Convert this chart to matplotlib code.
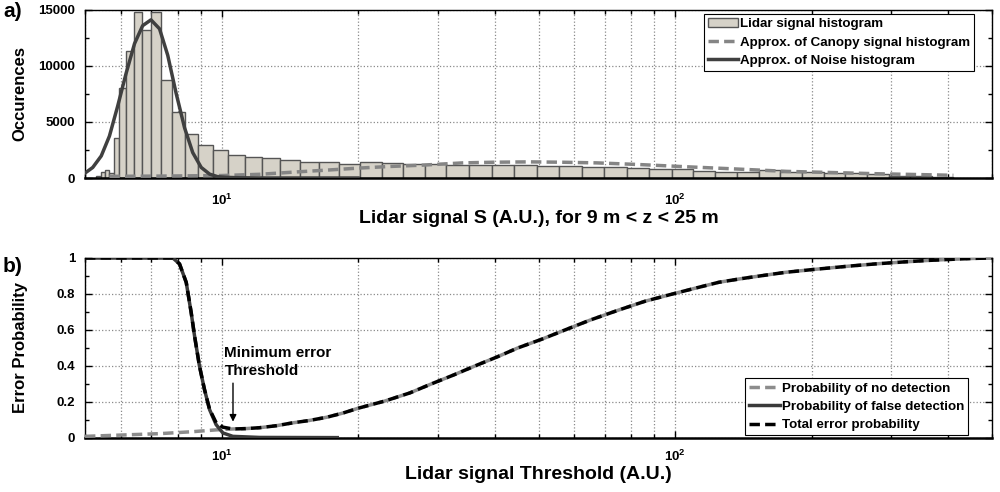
import numpy as np
import matplotlib.pyplot as plt
from matplotlib.ticker import MultipleLocator, LogLocator, NullFormatter

plt.rcParams['font.family'] = ['Liberation Sans', 'DejaVu Sans']
plt.rcParams['font.weight'] = 'bold'
plt.rcParams['mathtext.fontset'] = 'custom'
plt.rcParams['mathtext.rm'] = 'Liberation Sans:bold'
plt.rcParams['mathtext.bf'] = 'Liberation Sans:bold'
plt.rcParams['mathtext.default'] = 'bf'

# ---- panel a data: histogram of lidar signal ----
hist_edges = [5.30, 5.43, 5.54, 5.66, 5.78, 5.95, 6.16, 6.40, 6.67, 6.99, 7.36, 7.77,
              8.29, 8.86, 9.57, 10.32, 11.24, 12.30, 13.43, 14.87, 16.37, 18.15,
              20.17, 22.59, 25.13, 28.06, 31.33, 35.16, 39.52, 44.19, 49.52, 55.54,
              62.23, 69.83, 78.25, 87.77, 98.33, 109.7, 122.6, 136.9, 152.8, 170.5,
              190.4, 212.6, 237.4, 265.0, 295.8, 330.2, 368.7, 411.0]
hist_counts = [150, 500, 680, 450, 3540, 8020, 11320, 14850, 13170, 14850, 8750,
               5900, 3950, 2920, 2500, 2090, 1870, 1770, 1570, 1450, 1390, 1280,
               1390, 1300, 1210, 1240, 1120, 1120, 1120, 1180, 1060, 1060, 950, 950,
               860, 770, 770, 645, 555, 500, 710, 500, 520, 470, 415, 350, 200, 200, 60]

noise_s = [5.0, 5.20, 5.43, 5.66, 5.90, 6.16, 6.43, 6.70, 6.99, 7.30, 7.61, 7.94,
           8.29, 8.64, 9.02, 9.41, 9.81, 10.24, 11.0, 12.5, 20.0]
noise_occ = [440, 940, 1970, 3740, 6390, 9340, 12000, 13600, 14120, 13320, 10960,
             7580, 4480, 2270, 945, 350, 115, 60, 20, 0, 0]

canopy_s = [5.66, 7.30, 10.0, 12.13, 14.87, 17.31, 19.97, 23.5, 27.78, 34.04, 40.0,
            47.86, 56.0, 67.26, 82.45, 106.3, 137.1, 176.7, 216.6, 279.2, 360.0, 411.0]
canopy_occ = [150, 170, 220, 330, 560, 720, 880, 1030, 1150, 1350, 1410, 1440, 1410,
              1350, 1210, 1000, 800, 590, 500, 380, 290, 240]

# ---- panel b data: error probabilities vs threshold ----
thr = [5.0, 7.81, 8.08, 8.36, 8.57, 8.72, 8.94, 9.17, 9.41, 9.73, 10.07, 10.59,
       11.3, 12.13, 13.2, 14.35, 15.6, 17.05, 18.5, 20.0, 22.9, 26.0, 29.0, 32.5,
       36.2, 40.5, 45.0, 51.0, 57.2, 65.0, 75.0, 86.0, 98.8, 112.0, 125.0, 140.0,
       153.8, 175.0, 200.0, 242.8, 280.0, 320.0, 360.0, 404.0, 450.0, 500.0]
p_total = [1.0, 1.0, 0.967, 0.864, 0.70, 0.567, 0.40, 0.27, 0.16, 0.085, 0.06, 0.05,
           0.052, 0.057, 0.068, 0.084, 0.097, 0.115, 0.138, 0.165, 0.205, 0.25, 0.30,
           0.35, 0.40, 0.45, 0.50, 0.55, 0.60, 0.655, 0.71, 0.76, 0.80, 0.835, 0.865,
           0.885, 0.90, 0.92, 0.935, 0.955, 0.968, 0.978, 0.986, 0.992, 0.997, 1.0]
thr_nd = [5.0, 7.30, 8.64, 9.73, 10.59, 11.3, 12.13, 13.2, 14.35, 15.6, 17.05, 18.5,
          20.0, 22.9, 26.0, 29.0, 32.5, 36.2, 40.5, 45.0, 51.0, 57.2, 65.0, 75.0,
          86.0, 98.8, 112.0, 125.0, 140.0, 153.8, 175.0, 200.0, 242.8, 280.0, 320.0,
          360.0, 404.0, 450.0, 500.0]
p_nodet = [0.009, 0.024, 0.035, 0.045, 0.05, 0.052, 0.057, 0.068, 0.084, 0.097, 0.115,
           0.138, 0.165, 0.205, 0.25, 0.30, 0.35, 0.40, 0.45, 0.50, 0.55, 0.60, 0.655,
           0.71, 0.76, 0.80, 0.835, 0.865, 0.885, 0.90, 0.92, 0.935, 0.955, 0.968,
           0.978, 0.986, 0.992, 0.997, 1.0]
thr_fd = [5.0, 7.81, 8.08, 8.36, 8.57, 8.72, 8.94, 9.17, 9.41, 9.73, 10.07, 10.59,
          12.13, 18.0]
p_falsedet = [1.0, 1.0, 0.967, 0.864, 0.697, 0.567, 0.40, 0.27, 0.158, 0.074, 0.028,
              0.009, 0.003, 0.002]

fig = plt.figure(figsize=(10, 4.92), dpi=100)
ax1 = fig.add_axes([0.085, 0.6382, 0.907, 0.3415])
ax2 = fig.add_axes([0.085, 0.1098, 0.907, 0.3659])

bar_face = '#d6d2c8'
ax1.hist(hist_edges[:-1], bins=hist_edges, weights=hist_counts, color=bar_face,
         edgecolor='#555555', linewidth=1.0, label='Lidar signal histogram', zorder=2)
ax1.plot(canopy_s, canopy_occ, '--', color='#858585', lw=2.5, dashes=(3, 1.5),
         label='Approx. of Canopy signal histogram', zorder=3)
ax1.plot(noise_s, noise_occ, '-', color='#404040', lw=2.5,
         label='Approx. of Noise histogram', zorder=4)

ax2.plot(thr_nd, p_nodet, '--', color='#8c8c8c', lw=2.5, dashes=(3, 1.5),
         label='Probability of no detection', zorder=3)
ax2.plot(thr_fd, p_falsedet, '-', color='#3a3a3a', lw=2.5,
         label='Probability of false detection', zorder=4)
ax2.plot(thr, p_total, '--', color='black', lw=2.5, dashes=(3, 1.5),
         label='Total error probability', zorder=5)

ax2.text(10.15, 0.335, 'Minimum error\nThreshold', fontsize=11, fontweight='bold',
         ha='left', va='bottom', linespacing=1.3)
ax2.annotate('', xy=(10.6, 0.075), xytext=(10.6, 0.32),
             arrowprops=dict(arrowstyle='-|>', color='black', lw=1, mutation_scale=10))

for ax in (ax1, ax2):
    ax.set_xscale('log')
    ax.set_xlim(5, 500)
    ax.set_xticks([10, 100])
    ax.set_xticklabels([r'$10^1$', r'$10^2$'])
    ax.xaxis.set_minor_locator(LogLocator(base=10, subs=np.arange(2, 10)))
    ax.xaxis.set_minor_formatter(NullFormatter())
    ax.grid(True, which='major', axis='both', linestyle=':', color='#8a8a8a', lw=0.9)
    ax.grid(True, which='minor', axis='x', linestyle=':', color='#8a8a8a', lw=0.9)
    ax.set_axisbelow(True)
    ax.tick_params(which='both', direction='in', top=True, right=True, labelsize=9.5,
                   width=1)
    ax.tick_params(which='major', length=5)
    ax.tick_params(which='minor', length=3)
    ax.tick_params(axis='y', pad=7)
    for sp in ax.spines.values():
        sp.set_linewidth(1)
    ax.spines['bottom'].set_linewidth(1.8)

ax1.tick_params(axis='x', pad=11)
ax2.tick_params(axis='x', pad=8)

ax1.set_ylim(0, 15000)
ax1.yaxis.set_major_locator(MultipleLocator(5000))
ax1.yaxis.set_minor_locator(MultipleLocator(2500))
ax2.set_ylim(0, 1)
ax2.set_yticks([0, 0.2, 0.4, 0.6, 0.8, 1.0])
ax2.set_yticklabels(['0', '0.2', '0.4', '0.6', '0.8', '1'])
ax2.yaxis.set_minor_locator(MultipleLocator(0.1))

ax1.set_ylabel('Occurences', fontsize=12, fontweight='bold')
ax1.yaxis.set_label_coords(-0.064, 0.5)
ax1.set_xlabel('Lidar signal S (A.U.), for 9 m < z < 25 m', fontsize=14,
               fontweight='bold', labelpad=1)
ax2.set_ylabel('Error Probability', fontsize=12, fontweight='bold')
ax2.yaxis.set_label_coords(-0.063, 0.5)
ax2.set_xlabel('Lidar signal Threshold (A.U.)', fontsize=14, fontweight='bold',
               labelpad=1)

leg1 = ax1.legend(loc='upper right', fontsize=9.6, fancybox=False, edgecolor='black',
                  framealpha=1, handlelength=2.3, handletextpad=0.15,
                  borderaxespad=0.3, labelspacing=0.45, borderpad=0.3,
                  bbox_to_anchor=(0.985, 1.0))
leg1.get_frame().set_linewidth(0.8)
leg2 = ax2.legend(loc='lower right', fontsize=9.6, fancybox=False, edgecolor='black',
                  framealpha=1, handlelength=2.3, handletextpad=0.15,
                  borderaxespad=0.2, labelspacing=0.45, borderpad=0.3,
                  bbox_to_anchor=(0.977, 0.0))
leg2.get_frame().set_linewidth(0.8)

fig.text(0.003, 0.995, 'a)', fontsize=15, fontweight='bold', va='top')
fig.text(0.003, 0.477, 'b)', fontsize=15, fontweight='bold', va='top')

fig.savefig('out.png', dpi=100)
